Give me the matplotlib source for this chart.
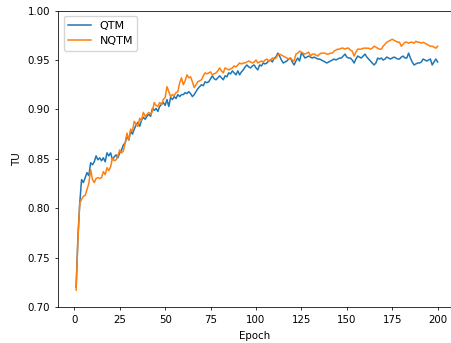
import numpy as np
import matplotlib
matplotlib.use("Agg")
import matplotlib.pyplot as plt

# TU per epoch
qtm = [
    0.720, 0.771, 0.805, 0.829, 0.826, 0.831, 0.836, 0.833, 0.846, 0.844,
    0.847, 0.853, 0.849, 0.851, 0.848, 0.851, 0.847, 0.856, 0.853, 0.856,
    0.849, 0.852, 0.854, 0.851, 0.856, 0.859, 0.864, 0.866, 0.873, 0.869,
    0.878, 0.875, 0.880, 0.884, 0.887, 0.883, 0.889, 0.892, 0.890, 0.893,
    0.895, 0.893, 0.901, 0.899, 0.901, 0.898, 0.903, 0.905, 0.907, 0.904,
    0.910, 0.903, 0.912, 0.910, 0.913, 0.911, 0.915, 0.913, 0.915, 0.915,
    0.917, 0.916, 0.918, 0.916, 0.913, 0.915, 0.918, 0.921, 0.923, 0.925,
    0.924, 0.928, 0.927, 0.928, 0.931, 0.934, 0.931, 0.930, 0.932, 0.934,
    0.932, 0.930, 0.934, 0.933, 0.937, 0.936, 0.939, 0.937, 0.935, 0.939,
    0.935, 0.938, 0.940, 0.943, 0.945, 0.943, 0.942, 0.944, 0.945, 0.942,
    0.940, 0.945, 0.944, 0.947, 0.946, 0.947, 0.949, 0.950, 0.948, 0.952,
    0.953, 0.957, 0.954, 0.950, 0.947, 0.948, 0.949, 0.951, 0.952, 0.948,
    0.945, 0.949, 0.952, 0.949, 0.957, 0.955, 0.952, 0.953, 0.954, 0.953,
    0.952, 0.953, 0.952, 0.951, 0.951, 0.950, 0.949, 0.948, 0.947, 0.948,
    0.949, 0.950, 0.951, 0.950, 0.951, 0.952, 0.952, 0.954, 0.956, 0.953,
    0.952, 0.952, 0.950, 0.947, 0.951, 0.954, 0.953, 0.952, 0.954, 0.956,
    0.953, 0.951, 0.949, 0.947, 0.945, 0.947, 0.952, 0.951, 0.952, 0.950,
    0.951, 0.953, 0.952, 0.951, 0.952, 0.953, 0.952, 0.951, 0.951, 0.953,
    0.954, 0.952, 0.952, 0.957, 0.952, 0.948, 0.945, 0.946, 0.947, 0.947,
    0.948, 0.951, 0.950, 0.949, 0.950, 0.951, 0.945, 0.948, 0.951, 0.948,
]

nqtm = [
    0.717, 0.768, 0.805, 0.809, 0.812, 0.813, 0.819, 0.825, 0.839, 0.829,
    0.826, 0.830, 0.831, 0.830, 0.831, 0.837, 0.834, 0.841, 0.838, 0.842,
    0.851, 0.848, 0.849, 0.853, 0.859, 0.856, 0.858, 0.866, 0.876, 0.869,
    0.880, 0.878, 0.888, 0.885, 0.883, 0.891, 0.889, 0.897, 0.893, 0.895,
    0.897, 0.895, 0.898, 0.907, 0.904, 0.903, 0.907, 0.905, 0.910, 0.912,
    0.923, 0.918, 0.913, 0.915, 0.914, 0.917, 0.918, 0.927, 0.932, 0.925,
    0.929, 0.935, 0.932, 0.933, 0.928, 0.922, 0.925, 0.928, 0.929, 0.930,
    0.934, 0.937, 0.936, 0.937, 0.938, 0.935, 0.936, 0.937, 0.939, 0.942,
    0.939, 0.937, 0.942, 0.941, 0.940, 0.941, 0.942, 0.944, 0.943, 0.945,
    0.947, 0.946, 0.947, 0.947, 0.948, 0.949, 0.948, 0.947, 0.948, 0.950,
    0.947, 0.948, 0.949, 0.948, 0.950, 0.951, 0.949, 0.950, 0.952, 0.951,
    0.952, 0.955, 0.956, 0.955, 0.954, 0.953, 0.952, 0.951, 0.952, 0.950,
    0.949, 0.956, 0.957, 0.959, 0.958, 0.957, 0.956, 0.957, 0.958, 0.954,
    0.956, 0.956, 0.955, 0.954, 0.956, 0.957, 0.957, 0.957, 0.956, 0.956,
    0.957, 0.957, 0.959, 0.960, 0.961, 0.961, 0.962, 0.962, 0.961, 0.962,
    0.962, 0.960, 0.959, 0.954, 0.958, 0.961, 0.961, 0.961, 0.962, 0.962,
    0.962, 0.962, 0.961, 0.962, 0.964, 0.963, 0.962, 0.961, 0.961, 0.964,
    0.966, 0.968, 0.969, 0.970, 0.971, 0.970, 0.969, 0.968, 0.968, 0.964,
    0.966, 0.968, 0.968, 0.967, 0.968, 0.968, 0.967, 0.969, 0.968, 0.968,
    0.967, 0.968, 0.967, 0.966, 0.965, 0.964, 0.964, 0.963, 0.962, 0.964,
]

epochs = np.arange(1, len(qtm) + 1)

plt.rcParams['font.size'] = 7.4

fig = plt.figure(figsize=(4.52, 3.43), dpi=100)
ax = fig.add_axes([0.129, 0.105, 0.869, 0.864])

ax.plot(epochs, qtm, color="#1f77b4", lw=1.1, label="QTM")
ax.plot(epochs, nqtm, color="#ff7f0e", lw=1.1, label="NQTM")

ax.set_ylim(0.70, 1.00)
ax.set_xlim(-8.8, 207.4)
ax.set_xticks([0, 25, 50, 75, 100, 125, 150, 175, 200])
ax.set_xlabel("Epoch")
ax.set_ylabel("TU")
ax.tick_params(width=0.56, length=2.5)
for s in ax.spines.values():
    s.set_linewidth(0.56)
ax.legend(loc="upper left", fontsize=8)

fig.savefig("out.png", dpi=100)
